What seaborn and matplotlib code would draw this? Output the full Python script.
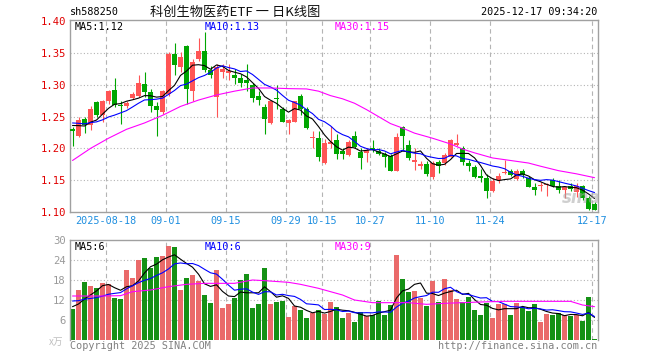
import numpy as np
import pandas as pd
import seaborn as sns
import matplotlib.pyplot as plt

# --- DATA ---
opens = [1.230, 1.220, 1.246, 1.237, 1.273, 1.252, 1.274, 1.292, 1.268, 1.266,
         1.279, 1.283, 1.302, 1.289, 1.267, 1.257, 1.286, 1.348, 1.328, 1.361,
         1.290, 1.341, 1.353, 1.323, 1.281, 1.320, 1.319, 1.315, 1.310, 1.307,
         1.299, 1.283, 1.265, 1.240, 1.279, 1.262, 1.240, 1.242, 1.283, 1.262,
         1.217, 1.217, 1.177, 1.207, 1.213, 1.196, 1.189, 1.220, 1.195, 1.192,
         1.201, 1.196, 1.191, 1.188, 1.165, 1.234, 1.205, 1.178, 1.173, 1.176,
         1.155, 1.178, 1.177, 1.187, 1.205, 1.201, 1.177, 1.171, 1.157, 1.153,
         1.133, 1.151, 1.162, 1.164, 1.152, 1.164, 1.153, 1.139, 1.141, 1.142,
         1.150, 1.141, 1.135, 1.141, 1.131, 1.141, 1.122, 1.113]
highs = [1.234, 1.250, 1.250, 1.267, 1.275, 1.276, 1.292, 1.310, 1.275, 1.274,
         1.289, 1.316, 1.320, 1.294, 1.273, 1.292, 1.352, 1.366, 1.352, 1.362,
         1.341, 1.373, 1.383, 1.329, 1.333, 1.333, 1.333, 1.325, 1.317, 1.333,
         1.303, 1.291, 1.270, 1.275, 1.299, 1.265, 1.247, 1.275, 1.286, 1.265,
         1.228, 1.228, 1.215, 1.236, 1.223, 1.200, 1.213, 1.228, 1.201, 1.200,
         1.213, 1.200, 1.194, 1.191, 1.224, 1.235, 1.213, 1.200, 1.180, 1.180,
         1.180, 1.182, 1.193, 1.215, 1.222, 1.203, 1.182, 1.174, 1.167, 1.159,
         1.153, 1.161, 1.182, 1.167, 1.167, 1.168, 1.156, 1.145, 1.147, 1.145,
         1.153, 1.151, 1.141, 1.145, 1.145, 1.143, 1.125, 1.115]
lows = [1.203, 1.218, 1.224, 1.229, 1.250, 1.241, 1.270, 1.265, 1.239, 1.264,
        1.277, 1.281, 1.281, 1.257, 1.219, 1.254, 1.283, 1.315, 1.320, 1.270,
        1.275, 1.338, 1.320, 1.310, 1.249, 1.310, 1.307, 1.302, 1.296, 1.290,
        1.273, 1.268, 1.223, 1.239, 1.262, 1.241, 1.223, 1.241, 1.252, 1.231,
        1.200, 1.180, 1.175, 1.201, 1.184, 1.184, 1.188, 1.200, 1.168, 1.179,
        1.194, 1.189, 1.170, 1.165, 1.165, 1.197, 1.181, 1.166, 1.167, 1.156,
        1.152, 1.161, 1.174, 1.186, 1.203, 1.174, 1.164, 1.153, 1.147, 1.122,
        1.131, 1.146, 1.159, 1.156, 1.150, 1.153, 1.139, 1.127, 1.133, 1.125,
        1.139, 1.130, 1.122, 1.133, 1.124, 1.119, 1.103, 1.103]
closes = [1.228, 1.244, 1.237, 1.262, 1.252, 1.274, 1.290, 1.269, 1.267, 1.271,
          1.285, 1.303, 1.289, 1.266, 1.260, 1.290, 1.349, 1.331, 1.344, 1.294,
          1.336, 1.353, 1.324, 1.315, 1.328, 1.325, 1.321, 1.310, 1.303, 1.303,
          1.280, 1.276, 1.246, 1.274, 1.278, 1.242, 1.245, 1.274, 1.262, 1.232,
          1.218, 1.186, 1.208, 1.210, 1.191, 1.191, 1.210, 1.202, 1.185, 1.197,
          1.197, 1.191, 1.186, 1.165, 1.218, 1.219, 1.185, 1.182, 1.176, 1.160,
          1.177, 1.173, 1.189, 1.213, 1.208, 1.178, 1.172, 1.155, 1.153, 1.133,
          1.149, 1.157, 1.163, 1.158, 1.164, 1.158, 1.140, 1.134, 1.142, 1.144,
          1.141, 1.134, 1.139, 1.136, 1.141, 1.122, 1.104, 1.103]
volumes = [9.3, 15.0, 17.4, 16.2, 15.7, 17.2, 16.8, 12.6, 12.3, 21.0,
           18.7, 24.0, 24.6, 21.6, 24.9, 25.2, 28.2, 27.9, 15.0, 18.6,
           19.5, 17.7, 13.5, 11.1, 21.0, 9.6, 10.8, 12.6, 18.0, 19.8,
           9.6, 10.8, 21.6, 10.8, 11.4, 11.7, 6.9, 10.2, 9.0, 6.6,
           8.1, 9.0, 7.7, 11.4, 10.0, 6.6, 8.2, 5.4, 8.4, 7.2,
           7.6, 11.7, 7.6, 10.6, 25.5, 18.3, 14.4, 14.7, 12.6, 10.3,
           17.7, 11.4, 18.3, 15.0, 12.3, 11.4, 13.0, 9.0, 7.6, 11.2,
           6.6, 10.8, 10.8, 7.6, 11.2, 10.0, 8.8, 10.8, 5.4, 7.8,
           7.6, 8.1, 7.6, 7.2, 7.6, 5.8, 13.0, 0.3]

# closes / volumes just before the window (only needed to start the MA5/MA10 lines)
pre_closes = [1.250, 1.245, 1.243, 1.240, 1.242, 1.245, 1.240, 1.232, 1.235]
pre_volumes = [14.0, 13.0, 14.0, 13.0, 13.0, 11.0, 10.0, 10.0, 9.7]

# MA30 lines (candle index -> value)
ma30_idx = [0, 3, 6, 9, 12, 15, 18, 21, 24, 27, 30, 33, 36, 39, 41, 43, 45, 47,
            49, 51, 53, 55, 57, 60, 63, 65, 67, 70, 73, 76, 78, 81, 84, 87]
ma30_price = [1.181, 1.200, 1.216, 1.230, 1.240, 1.252, 1.266, 1.276, 1.284, 1.290,
              1.295, 1.295, 1.294, 1.2935, 1.290, 1.283, 1.278, 1.271, 1.261, 1.250,
              1.239, 1.232, 1.224, 1.216, 1.207, 1.199, 1.193, 1.185, 1.181, 1.177,
              1.172, 1.165, 1.160, 1.154]
vma30_idx = [0, 5, 8, 10, 13, 16, 19, 22, 27, 30, 32, 36, 38, 41, 43, 45, 47, 50,
             53, 56, 59, 62, 65, 68, 72, 76, 83, 85, 87]
vma30 = [13.2, 13.2, 13.3, 14.5, 15.0, 16.0, 16.7, 17.0, 17.0, 18.0, 17.8, 17.3, 16.7,
         15.5, 14.5, 13.5, 12.0, 11.2, 11.2, 11.2, 10.7, 11.0, 11.2, 11.4, 11.6, 11.6,
         11.6, 10.5, 10.0]

tick_idx = [6, 16, 26, 36, 42, 50, 60, 70, 87]
tick_labels = ['2025-08-18', '09-01', '09-15', '09-29', '10-15', '10-27', '11-10', '11-24', '12-17']
price_ticks = [1.10, 1.15, 1.20, 1.25, 1.30, 1.35, 1.40]
vol_ticks = [6, 12, 18, 24, 30]

RED = '#ff5555'
GREEN = '#00a600'
GRID = '#b4b4b4'
FRAME = '#a0a0a0'
MONO = 'DejaVu Sans Mono'
LW = 0.8

df = pd.DataFrame({'open': opens, 'high': highs, 'low': lows, 'close': closes, 'vol': volumes})
df['idx'] = np.arange(len(df))
df['up'] = df['close'] >= df['open']
df['color'] = np.where(df['up'], RED, GREEN)

c_all = pd.Series(pre_closes + closes)
v_all = pd.Series(pre_volumes + volumes)
n_pre = len(pre_closes)
df['ma5'] = c_all.rolling(5).mean().iloc[n_pre:].values
df['ma10'] = c_all.rolling(10).mean().iloc[n_pre:].values
df['vma5'] = v_all.rolling(5).mean().iloc[n_pre:].values
df['vma10'] = v_all.rolling(10).mean().iloc[n_pre:].values

sns.set_style('white')
plt.rcParams['font.family'] = ['DejaVu Sans', 'Noto Sans CJK SC']

W, H = 660, 360
fig = plt.figure(figsize=(6.6, 3.6), dpi=100)
left, right = 70, 597.5
ax = fig.add_axes([left / W, 1 - 212 / H, (right - left) / W, 192 / H])
vax = fig.add_axes([left / W, 1 - 340 / H, (right - left) / W, 100 / H])

xmin, xmax = -0.42, 87.5
grid_x = [i - 0.42 for i in tick_idx]

# --- price panel ---
ax.set_xlim(xmin, xmax)
ax.set_ylim(1.10, 1.10 + 192 / 636)
for y in price_ticks[1:-1]:
    ax.axhline(y, color=GRID, lw=0.8, ls=(0, (1, 2)), zorder=0)
for x in grid_x:
    ax.axvline(x, color=GRID, lw=0.8, ls=(0, (4, 3)), zorder=0)

ax.vlines(df['idx'], df['low'], df['high'], colors=df['color'], lw=0.8, zorder=2)
body = (df['close'] - df['open']).abs().clip(lower=0.0016)
ax.bar(df['idx'], body, bottom=df[['open', 'close']].min(axis=1), width=0.78,
       color=df['color'], linewidth=0, zorder=3)

sns.lineplot(x=df['idx'], y=df['ma5'], color='black', lw=LW, ax=ax, zorder=4)
sns.lineplot(x=df['idx'], y=df['ma10'], color='#0000ff', lw=LW, ax=ax, zorder=4)
sns.lineplot(x=ma30_idx, y=ma30_price, color='#ff00ff', lw=LW, ax=ax, zorder=4)

ax.set_yticks(price_ticks)
ax.set_yticklabels(['%.2f' % v for v in price_ticks], color='#e00000', family=MONO, fontsize=7.6)
ax.set_xticks(grid_x)
ax.set_xticklabels(tick_labels, color='#1f8fe0', family=MONO, fontsize=7.3)
ax.tick_params(length=0, pad=3)
ax.set_xlabel('')
ax.set_ylabel('')
for s in ax.spines.values():
    s.set_color(FRAME)
    s.set_linewidth(1)

# --- volume panel ---
vax.set_xlim(xmin, xmax)
vax.set_ylim(0, 30)
for y in vol_ticks[:-1]:
    vax.axhline(y, color=GRID, lw=0.8, ls=(0, (1, 2)), zorder=0)
for x in grid_x:
    vax.axvline(x, color=GRID, lw=0.8, ls=(0, (4, 3)), zorder=0)

sns.barplot(data=df, x='idx', y='vol', hue='up', palette={True: RED, False: GREEN},
            dodge=False, native_scale=True, width=0.78, errorbar=None, legend=False,
            linewidth=0, ax=vax, zorder=2)
sns.lineplot(x=df['idx'], y=df['vma5'], color='black', lw=LW, ax=vax, zorder=4)
sns.lineplot(x=df['idx'], y=df['vma10'], color='#0000ff', lw=LW, ax=vax, zorder=4)
sns.lineplot(x=vma30_idx, y=vma30, color='#ff00ff', lw=LW, ax=vax, zorder=4)

vax.set_xlim(xmin, xmax)
vax.set_ylim(0, 30)
vax.set_yticks(vol_ticks)
vax.set_yticklabels([str(v) for v in vol_ticks], color='#9a9a9a', family=MONO, fontsize=7.6)
vax.set_xticks([])
vax.tick_params(length=0, pad=3)
vax.set_xlabel('')
vax.set_ylabel('')
for name, s in vax.spines.items():
    s.set_color(FRAME)
    s.set_linewidth(1)
vax.spines['bottom'].set_visible(False)

# --- texts ---
def px_text(x, y, s, **kw):
    fig.text(x / W, 1 - y / H, s, va='center', **kw)

px_text(70, 12, 'sh588250', family=MONO, fontsize=7.3, color='black')
px_text(150, 12, '科创生物医药ETF 一 日K线图', family=['Noto Sans CJK SC', 'DejaVu Sans'],
        fontsize=9.5, color='#111111')
px_text(597, 12, '2025-12-17 09:34:20', family=MONO, fontsize=7.3, color='black', ha='right')

px_text(75, 27, 'MA5:1.12', family=MONO, fontsize=7.3, color='black')
px_text(205, 27, 'MA10:1.13', family=MONO, fontsize=7.3, color='#0000ff')
px_text(335, 27, 'MA30:1.15', family=MONO, fontsize=7.3, color='#ff00ff')

px_text(75, 247, 'MA5:6', family=MONO, fontsize=7.3, color='black')
px_text(205, 247, 'MA10:6', family=MONO, fontsize=7.3, color='#0000ff')
px_text(335, 247, 'MA30:9', family=MONO, fontsize=7.3, color='#ff00ff')

px_text(63, 342, 'x万', family=['Noto Sans CJK SC', 'DejaVu Sans'], fontsize=7,
        color='#c0c0c0', ha='right', style='italic')
px_text(70, 346, 'Copyright 2025 SINA.COM', family=MONO, fontsize=7.3, color='#808080')
px_text(597, 346, 'http://finance.sina.com.cn', family=MONO, fontsize=7.3,
        color='#808080', ha='right')
px_text(581, 198, 'sina', fontsize=12, style='italic', weight='bold',
        color='#a8a8a8', alpha=0.55, ha='center')

fig.savefig('out.png', dpi=100)
